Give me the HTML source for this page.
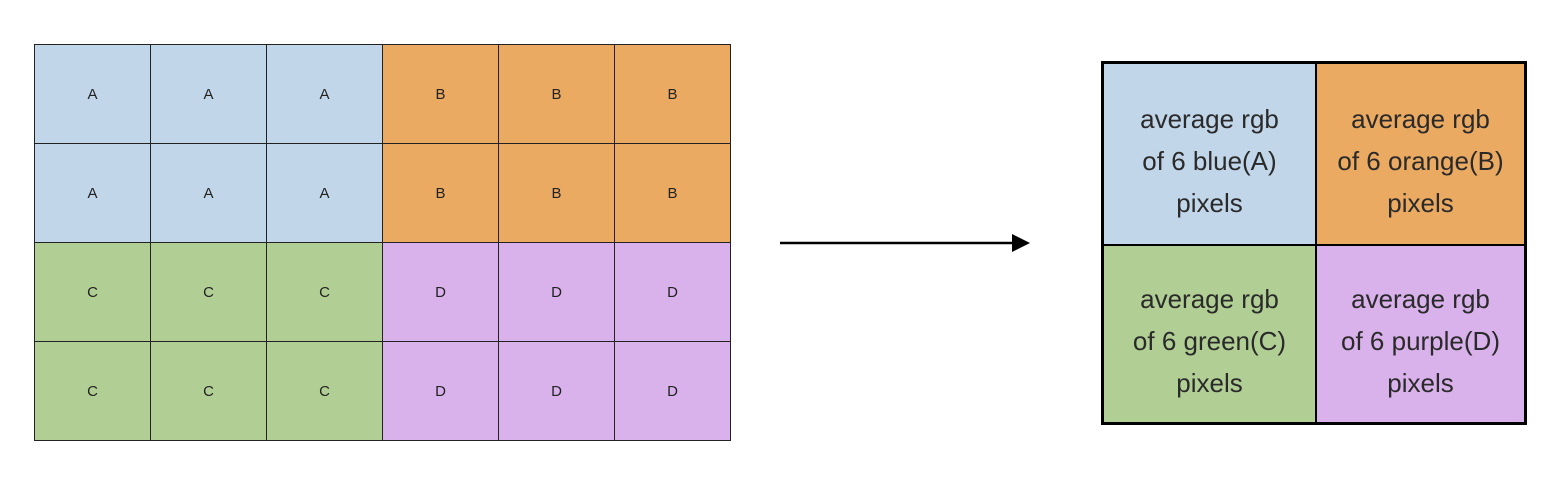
<!DOCTYPE html>
<html><head><meta charset="utf-8"><style>
body{margin:0;width:1550px;height:480px;background:#fff;position:relative;overflow:hidden;font-family:"Liberation Sans",sans-serif}
.c{position:absolute;box-sizing:border-box;border:1px solid #222;display:flex;align-items:center;justify-content:center;font-size:15px;color:#222}
.r{position:absolute;box-sizing:border-box;display:flex;align-items:center;justify-content:center;text-align:center;font-size:26px;line-height:42px;color:#2a2a2a;padding-top:14px}
</style></head><body>
<div id="grid"></div>
<svg style="position:absolute;left:0;top:0" width="1550" height="480">
<line x1="780" y1="243" x2="1014" y2="243" stroke="#000" stroke-width="2.5"/>
<polygon points="1012,234 1030,243 1012,252" fill="#000"/>
</svg>
<div style="position:absolute;left:1101px;top:61px;width:426px;height:364px;box-sizing:border-box;border:3px solid #000;background:#000">
<div class="r" style="left:0;top:0;width:211px;height:180px;background:#c2d6ea">average rgb<br>of 6 blue(A)<br>pixels</div>
<div class="r" style="left:213px;top:0;width:207px;height:180px;background:#ebaa62">average rgb<br>of 6 orange(B)<br>pixels</div>
<div class="r" style="left:0;top:182px;width:211px;height:176px;background:#b1cf95">average rgb<br>of 6 green(C)<br>pixels</div>
<div class="r" style="left:213px;top:182px;width:207px;height:176px;background:#d9b1eb">average rgb<br>of 6 purple(D)<br>pixels</div>
</div>
<script>
const labels=[["A","A","A","B","B","B"],["A","A","A","B","B","B"],["C","C","C","D","D","D"],["C","C","C","D","D","D"]];
const colors={A:"#c2d6ea",B:"#ebaa62",C:"#b1cf95",D:"#d9b1eb"};
const g=document.getElementById('grid');
const x0=34,y0=44,cw=116,ch=99;
labels.forEach((row,i)=>row.forEach((l,j)=>{
 const d=document.createElement('div');
 d.className='c';
 
 
 d.style.left=(x0+j*cw)+'px';d.style.top=(y0+i*ch)+'px';
 d.style.width=(cw+1)+'px';d.style.height=(ch+1)+'px';
 d.style.background=colors[l];d.textContent=l;
 g.appendChild(d);
}));
</script>
</body></html>
